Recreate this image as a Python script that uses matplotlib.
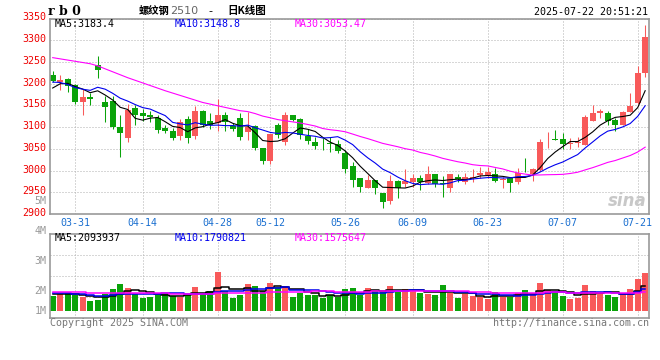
import matplotlib
matplotlib.use("Agg")
import matplotlib.pyplot as plt
from matplotlib.transforms import ScaledTranslation
import numpy as np
import pandas as pd

# 等宽字体 + 中文字体
plt.rcParams["font.family"] = ["DejaVu Sans Mono", "Noto Sans CJK SC"]
plt.rcParams["axes.unicode_minus"] = False

# 交易日（剔除节假日）
holidays = ["2025-04-04", "2025-05-01", "2025-05-02", "2025-05-05", "2025-06-02"]
days = pd.bdate_range("2025-03-26", "2025-07-22")
days = days[~days.isin(pd.to_datetime(holidays))]
dates = days.strftime("%m-%d").tolist()

tick_dates = ["03-31", "04-14", "04-28", "05-12", "05-26", "06-09", "06-23", "07-07", "07-21"]

# 日K数据
open_ = [3221, 3204, 3211, 3198, 3157, 3170, 3243, 3157, 3159, 3101,
         3075, 3144, 3132, 3128, 3121, 3097, 3092, 3079, 3118, 3079,
         3138, 3115, 3110, 3129, 3102, 3120, 3088, 3102, 3053, 3022,
         3106, 3066, 3127, 3119, 3079, 3066, 3062, 3063, 3060, 3040,
         3010, 2982, 2960, 2978, 2949, 2931, 2976, 2969, 2974, 2984,
         2972, 2993, 2970, 2960, 2986, 2974, 2984, 2989, 2989, 2993,
         2979, 2982, 2974, 3000, 2992, 3001, 3074, 3073, 3072, 3060,
         3063, 3059, 3115, 3132, 3132, 3117, 3104, 3134, 3156, 3224]
high = [3230, 3219, 3214, 3199, 3187, 3178, 3264, 3172, 3172, 3127,
        3153, 3150, 3142, 3138, 3127, 3105, 3098, 3119, 3125, 3148,
        3140, 3132, 3165, 3134, 3110, 3132, 3134, 3104, 3053, 3085,
        3109, 3134, 3129, 3121, 3096, 3077, 3075, 3077, 3070, 3047,
        3020, 2982, 2989, 2978, 2949, 2989, 2979, 3003, 2992, 2989,
        3010, 2993, 2987, 2993, 2993, 2995, 3003, 3008, 3008, 3005,
        2986, 2983, 3005, 3028, 3006, 3072, 3089, 3094, 3086, 3075,
        3078, 3129, 3150, 3142, 3137, 3122, 3136, 3178, 3241, 3335]
low = [3203, 3186, 3180, 3153, 3128, 3151, 3212, 3111, 3095, 3031,
       3066, 3104, 3115, 3111, 3087, 3086, 3070, 3070, 3063, 3072,
       3100, 3095, 3092, 3091, 3090, 3071, 3070, 3048, 3016, 3014,
       3075, 3058, 3113, 3072, 3062, 3050, 3047, 3043, 3041, 2995,
       2963, 2950, 2959, 2947, 2913, 2924, 2936, 2963, 2963, 2955,
       2970, 2963, 2940, 2951, 2974, 2970, 2974, 2984, 2984, 2974,
       2960, 2951, 2970, 2997, 2976, 2999, 3052, 3070, 3050, 3050,
       3054, 3058, 3115, 3121, 3105, 3092, 3104, 3134, 3153, 3215]
close = [3207, 3209, 3195, 3157, 3170, 3165, 3231, 3146, 3100, 3086,
         3140, 3129, 3125, 3123, 3094, 3091, 3075, 3112, 3075, 3138,
         3105, 3104, 3129, 3111, 3095, 3077, 3100, 3052, 3022, 3083,
         3082, 3127, 3117, 3081, 3068, 3057, 3060, 3061, 3044, 3003,
         2979, 2963, 2978, 2960, 2928, 2976, 2959, 2976, 2982, 2974,
         2992, 2968, 2969, 2992, 2980, 2986, 2986, 2994, 2997, 2976,
         2980, 2972, 2995, 2998, 3004, 3065, 3076, 3070, 3060, 3063,
         3065, 3124, 3133, 3138, 3113, 3104, 3134, 3148, 3225, 3308]
# 成交量（百万手）
volume = [1.28, 1.43, 1.48, 1.34, 1.20, 0.83, 0.91, 1.43, 1.85, 2.28,
          1.94, 1.43, 1.09, 1.17, 1.34, 1.48, 1.28, 1.20, 1.37, 2.03,
          1.51, 1.68, 3.31, 1.68, 1.11, 1.34, 2.28, 2.11, 1.71, 2.37,
          2.03, 2.11, 1.17, 1.48, 1.31, 1.34, 1.11, 1.34, 1.20, 1.85,
          1.94, 1.31, 1.94, 1.68, 1.60, 2.11, 1.62, 1.85, 1.68, 1.54,
          1.43, 1.31, 2.20, 1.48, 1.09, 1.43, 1.26, 1.17, 1.03, 1.60,
          1.20, 1.20, 1.51, 1.77, 1.43, 2.37, 1.77, 1.71, 1.26, 1.00,
          1.09, 2.20, 1.68, 1.51, 1.34, 1.17, 1.48, 1.85, 2.71, 3.25]

# 图前29个交易日（用于均线）
prev_close = [3293, 3279, 3241, 3254, 3249, 3380, 3350, 3304, 3290, 3344,
              3309, 3305, 3303, 3274, 3271, 3237, 3274, 3237, 3300, 3267,
              3218, 3243, 3225, 3209, 3191, 3160, 3190, 3195, 3198]
prev_volume = [1.52, 1.80, 1.71, 1.45, 1.63, 1.90, 1.58, 1.66, 1.49, 1.74,
               1.62, 1.55, 1.83, 1.70, 1.47, 1.61, 1.76, 1.59, 1.68, 1.51,
               1.72, 1.48, 1.66, 1.55, 1.49, 1.38, 1.52, 1.41, 1.51]

RED = "#f85a5a"
GREEN = "#0aa30a"
BLUE_TXT = "#1a6fd0"
GRID = "#b0b0b0"
W, H = 660, 360


def fx(x):
    return x / W


def fy(y):
    return 1 - y / H


def ma(prev, cur, n):
    s = pd.Series(prev + cur).rolling(n).mean()
    return s.iloc[len(prev):].values


fig = plt.figure(figsize=(6.6, 3.6), dpi=100)
fig.patch.set_facecolor("white")

ax = fig.add_axes([fx(50.3), fy(214), fx(649.3) - fx(50.3), fy(18.5) - fy(214)])
axv = fig.add_axes([fx(50.3), fy(317.7), fx(649.3) - fx(50.3), fy(234.3) - fy(317.7)])

x = np.arange(len(close))
o = np.array(open_)
c = np.array(close)
colors = np.where(c >= o, RED, GREEN)

# K线
ax.vlines(x, low, high, colors=colors, lw=0.75, zorder=2)
ax.bar(x, np.maximum(np.abs(c - o), 1.5), bottom=np.minimum(o, c), width=0.78,
       color=colors, linewidth=0, zorder=2)

# 均线
ax.plot(x, ma(prev_close, close, 5), color="black", lw=0.8, zorder=3)
ax.plot(x, ma(prev_close, close, 10), color="#0000ee", lw=0.8, zorder=3)
ax.plot(x, ma(prev_close, close, 30), color="#ff00ff", lw=0.8, zorder=3)

xt = [dates.index(d) for d in tick_dates]
for a in (ax, axv):
    a.set_xlim(-0.32, 79.55)
    a.set_xticks(xt)
    a.tick_params(length=0)
    a.grid(axis="x", color=GRID, linestyle=(0, (1, 2)), lw=0.72, zorder=0)
    for s in a.spines.values():
        s.set_color("#999999")
        s.set_linewidth(1.2)

ax.set_ylim(2900, 3350)
ax.set_yticks(np.arange(2900, 3351, 50))
ax.set_yticklabels([str(v) for v in range(2900, 3351, 50)], color="#ee0000", fontsize=7.2)
ax.grid(axis="y", color=GRID, linestyle=(0, (1, 2)), lw=0.72, zorder=0)
ax.set_xticklabels(tick_dates, color=BLUE_TXT, fontsize=7.2)
ax.tick_params(axis="x", pad=3)
ax.tick_params(axis="y", pad=3)
# 价格刻度文字略高于网格线
up2 = ScaledTranslation(0, 2 / 100, fig.dpi_scale_trans)
for t in ax.yaxis.get_major_ticks():
    t.label1.set_transform(t.label1.get_transform() + up2)

# 成交量
v = np.array(volume)
axv.bar(x, v, width=0.78, color=colors, linewidth=0, zorder=2)
axv.plot(x, ma(prev_volume, volume, 5), color="black", lw=1.1, drawstyle="steps-mid", zorder=3)
axv.plot(x, ma(prev_volume, volume, 10), color="#0000ee", lw=1.1, drawstyle="steps-mid", zorder=3)
axv.plot(x, ma(prev_volume, volume, 30), color="#ff00ff", lw=1.1, drawstyle="steps-mid", zorder=3)
axv.set_ylim(-0.598, 6.53)
axv.set_yticks([])
axv.set_xticklabels([])
for f in (0.25, 0.5, 0.75):
    axv.plot([0, 1], [f, f], transform=axv.transAxes, color=GRID,
             linestyle=(0, (1, 2)), lw=0.72, zorder=0)

# 标题
fig.text(fx(48), fy(11.5), "r b 0", family="DejaVu Serif", weight="bold",
         fontsize=9, ha="left", va="center")
fig.text(fx(139), fy(11), "螺纹钢", family="Noto Sans CJK SC", weight="bold",
         fontsize=7.4, ha="left", va="center")
fig.text(fx(170), fy(11.5), "2510", family="DejaVu Sans", color="#666666",
         fontsize=8.0, ha="left", va="center")
fig.text(fx(208), fy(11), "-", family="DejaVu Sans", fontsize=8, ha="left", va="center")
fig.text(fx(227), fy(11), "日K线图", family="Noto Sans CJK SC", weight="bold",
         fontsize=7.6, ha="left", va="center")
fig.text(fx(648.5), fy(12), "2025-07-22 20:51:21", fontsize=7.2, ha="right", va="center")

# 图例
fig.text(fx(54.3), fy(24), "MA5:3183.4", color="black", fontsize=7.2, va="center")
fig.text(fx(174.3), fy(24), "MA10:3148.8", color="#0000ee", fontsize=7.2, va="center")
fig.text(fx(295), fy(24), "MA30:3053.47", color="#ff00ff", fontsize=7.2, va="center")
fig.text(fx(54.3), fy(238.3), "MA5:2093937", color="black", fontsize=7.2, va="center")
fig.text(fx(174.3), fy(238.3), "MA10:1790821", color="#0000ee", fontsize=7.2, va="center")
fig.text(fx(295), fy(238.3), "MA30:1575647", color="#ff00ff", fontsize=7.2, va="center")

# 成交量刻度
for lab, yy in [("5M", 201.5), ("4M", 230.7), ("3M", 260.7), ("2M", 290.7), ("1M", 310.7)]:
    fig.text(fx(46.5), fy(yy), lab, color="#999999", fontsize=7.2, ha="right", va="center")

# 版权
fig.text(fx(50), fy(323.5), "Copyright 2025 SINA.COM", color="#777777", fontsize=7.2,
         ha="left", va="center")
fig.text(fx(649), fy(323.5), "http://finance.sina.com.cn", color="#777777", fontsize=7.2,
         ha="right", va="center")

# 水印
fig.text(fx(627), fy(201), "sina", color="#c8c8c8", fontsize=12, family="DejaVu Sans",
         weight="bold", style="italic", ha="center", va="center")

fig.savefig("out.png", dpi=100)
